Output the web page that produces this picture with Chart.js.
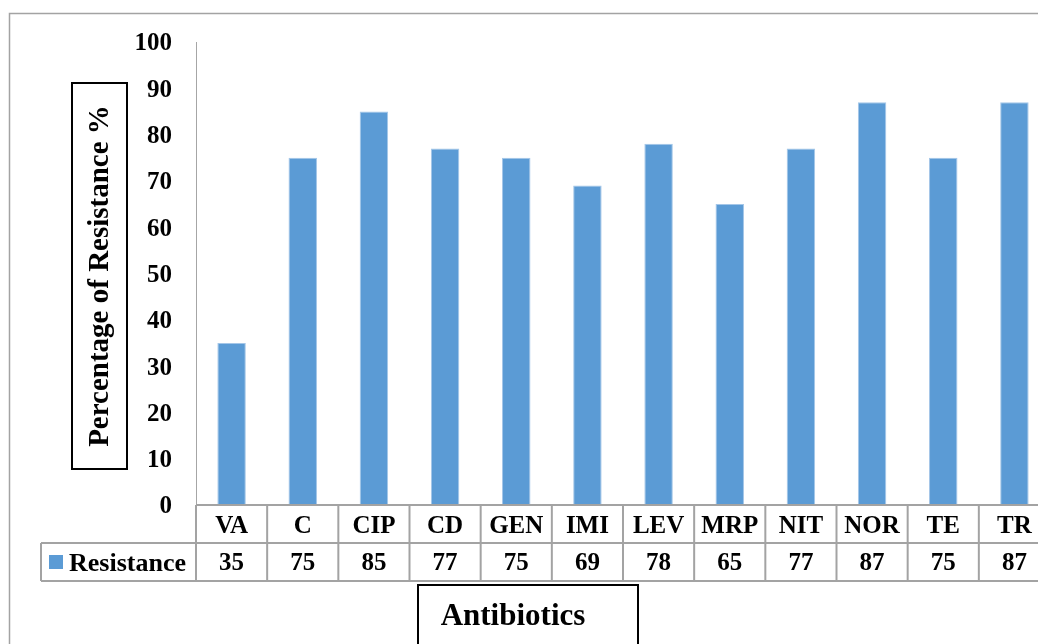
<!DOCTYPE html>
<html>
<head>
<meta charset="utf-8">
<script src="https://cdn.jsdelivr.net/npm/chart.js@4/dist/chart.umd.min.js"></script>
<style>
  html, body { margin: 0; padding: 0; background: #fff; overflow: hidden; }
  #wrap { position: absolute; left: 0; top: 0; width: 1060px; height: 644px; }
</style>
</head>
<body>
<div id="wrap"><canvas id="chart" width="1060" height="644"></canvas></div>
<script>
// Antibiotic resistance chart (Excel-style bar + data table)
const categories = ['VA', 'C', 'CIP', 'CD', 'GEN', 'IMI', 'LEV', 'MRP', 'NIT', 'NOR', 'TE', 'TR'];
const resistance = [35, 75, 85, 77, 75, 69, 78, 65, 77, 87, 75, 87];
const seriesName = 'Resistance';
const yTitle = 'Percentage of Resistance %';
const xTitle = 'Antibiotics';

const FONT = '"Liberation Serif", "Times New Roman", serif';
const BLUE = '#5b9bd5';
const GRID = '#a3a3a3';

// frame, axis titles and the data table under the plot
const decor = {
  id: 'decor',
  beforeDraw(chart) {
    const ctx = chart.ctx;
    ctx.save();
    ctx.strokeStyle = GRID;
    ctx.lineWidth = 1.5;
    ctx.beginPath();
    ctx.moveTo(9.5, 644); ctx.lineTo(9.5, 13.5); ctx.lineTo(chart.width, 13.5);
    ctx.stroke();
    ctx.restore();
  },
  afterDraw(chart) {
    const ctx = chart.ctx;
    const area = chart.chartArea;
    const x = chart.scales.x;
    const half = (area.right - area.left) / categories.length / 2;
    const top = area.bottom, mid = top + 38, bot = mid + 38;
    const legLeft = 41;

    ctx.save();
    // table grid
    ctx.strokeStyle = GRID;
    ctx.lineWidth = 2;
    ctx.beginPath();
    ctx.moveTo(area.left, top); ctx.lineTo(area.right, top);
    ctx.moveTo(legLeft, mid); ctx.lineTo(area.right, mid);
    ctx.moveTo(legLeft, bot); ctx.lineTo(area.right, bot);
    ctx.moveTo(legLeft, mid); ctx.lineTo(legLeft, bot);
    ctx.moveTo(area.left, top); ctx.lineTo(area.left, bot);
    categories.forEach((c, i) => {
      const r = x.getPixelForValue(i) + half;
      ctx.moveTo(r, top); ctx.lineTo(r, bot);
    });
    ctx.stroke();

    // table text
    ctx.fillStyle = '#000';
    ctx.font = 'bold 25px ' + FONT;
    ctx.textAlign = 'center';
    ctx.textBaseline = 'middle';
    categories.forEach((c, i) => {
      const cx = x.getPixelForValue(i);
      ctx.fillText(c, cx, (top + mid) / 2 + 3);
      ctx.fillText(String(resistance[i]), cx, (mid + bot) / 2 + 2);
    });

    // legend key
    ctx.fillStyle = BLUE;
    ctx.fillRect(legLeft + 8, mid + 12, 14, 14);
    ctx.fillStyle = '#000';
    ctx.textAlign = 'left';
    ctx.font = 'bold 26px ' + FONT;
    ctx.fillText(seriesName, legLeft + 28, (mid + bot) / 2 + 2);

    // y title box
    ctx.strokeStyle = '#000';
    ctx.lineWidth = 2;
    ctx.strokeRect(72, 83, 55, 386);
    ctx.save();
    ctx.translate(101, 276);
    ctx.rotate(-Math.PI / 2);
    ctx.textAlign = 'center';
    ctx.font = 'bold 29px ' + FONT;
    ctx.fillText(yTitle, 0, 0);
    ctx.restore();

    // x title box
    ctx.strokeRect(418, 585, 220, 70);
    ctx.textAlign = 'center';
    ctx.textBaseline = 'alphabetic';
    ctx.font = 'bold 31px ' + FONT;
    ctx.fillText(xTitle, 513, 625);
    ctx.restore();
  }
};

new Chart(document.getElementById('chart'), {
  type: 'bar',
  data: {
    labels: categories,
    datasets: [{
      label: seriesName,
      data: resistance,
      backgroundColor: BLUE,
      borderColor: '#a4c6e8',
      borderWidth: 1,
      categoryPercentage: 1,
      barPercentage: 0.4
    }]
  },
  options: {
    responsive: false,
    animation: false,
    layout: { padding: { left: 0, top: 42, right: 10, bottom: 139 } },
    plugins: { legend: { display: false }, tooltip: { enabled: false } },
    scales: {
      x: { display: false },
      y: {
        min: 0, max: 100,
        afterFit(scale) { scale.width = 196; },
        border: { display: true, color: '#a6a6a6', width: 1 },
        grid: { display: false, drawTicks: false },
        ticks: {
          stepSize: 10,
          padding: 24,
          labelOffset: 2,
          color: '#000',
          font: { family: FONT, size: 25, weight: 'bold' }
        }
      }
    }
  },
  plugins: [decor]
});
</script>
</body>
</html>
